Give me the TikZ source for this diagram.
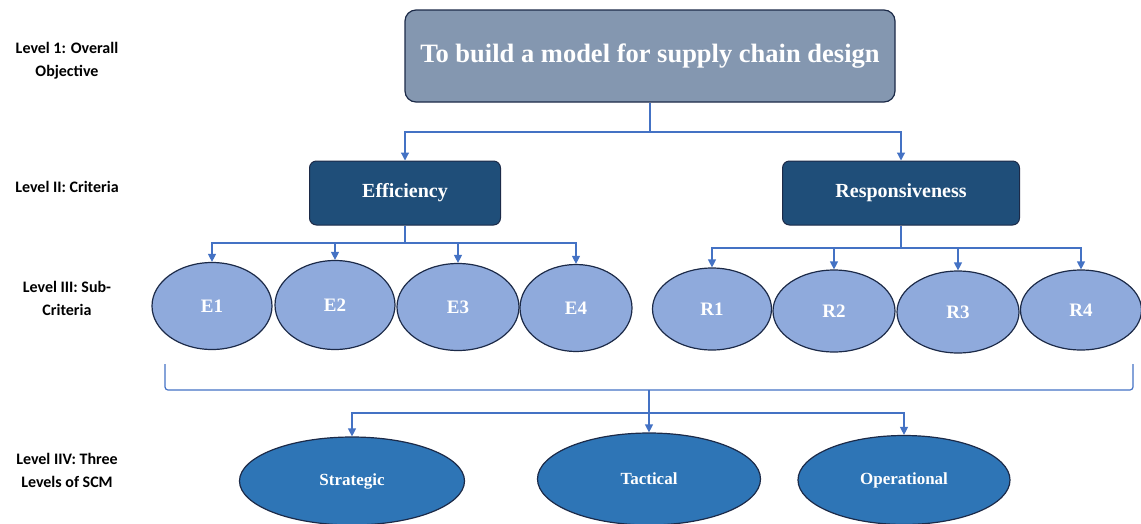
\documentclass[tikz,border=0pt]{standalone}
\usepackage{fontspec}
\setmainfont{Liberation Serif}
\newfontfamily\levelfont{Carlito}
\usetikzlibrary{shapes.geometric,arrows.meta}

\definecolor{goalFill}{HTML}{8497B0}
\definecolor{critFill}{HTML}{1F4E79}
\definecolor{subFill}{HTML}{8FAADC}
\definecolor{scmFill}{HTML}{2E75B6}
\definecolor{edgeDark}{HTML}{1C2A48}
\definecolor{linkBlue}{HTML}{4472C4}

\tikzset{
	levelLabel/.style={align=center, font=\levelfont\bfseries\fontsize{16}{23}\selectfont},
	critBox/.style={rectangle, draw=edgeDark, line width=1pt, fill=critFill, rounded corners=7pt, text=white, font=\bfseries\fontsize{20}{22}\selectfont},
	subEllipse/.style={ellipse, draw=edgeDark, line width=1.2pt, fill=subFill, inner sep=0pt, text=white, font=\bfseries\fontsize{19}{21}\selectfont},
	scmEllipse/.style={ellipse, draw=edgeDark, line width=1.2pt, fill=scmFill, inner sep=0pt, text=white, font=\bfseries\fontsize{17}{19}\selectfont},
	conn/.style={draw=linkBlue, line width=1.2pt, -{Triangle[width=8pt,length=8pt]}},
	bracketLine/.style={draw=linkBlue, line width=1.2pt, rounded corners=3pt}
}

\begin{document}
\begin{tikzpicture}[x=1pt, y=-1pt]
		\useasboundingbox (0,0) rectangle (1141,523);
		% level labels on the left
		\node[levelLabel](level1Label) at (67,61){Level 1: Overall\\Objective};
		\node[levelLabel](level2Label) at (67,187){Level II: Criteria};
		\node[levelLabel](level3Label) at (67,298){Level III: Sub-\\Criteria};
		\node[levelLabel](level4Label) at (67,470){Level IIV: Three\\Levels of SCM};
		% objective
		\node[rectangle, draw=edgeDark, line width=1.2pt, fill=goalFill, rounded corners=11pt, minimum width=490pt, minimum height=92pt, text=white, font=\bfseries\fontsize{26.5}{30}\selectfont](goalBox) at (650,56){To build a model for supply chain design};
		% criteria
		\node[critBox, minimum width=191pt, minimum height=64pt](effBox) at (405,193){Efficiency};
		\node[critBox, minimum width=237pt, minimum height=64pt](resBox) at (901,193){Responsiveness};
		% sub-criteria
		\node[subEllipse, minimum width=120pt, minimum height=87pt](e1) at (212,306){E1};
		\node[subEllipse, minimum width=120pt, minimum height=89pt](e2) at (335,305){E2};
		\node[subEllipse, minimum width=122pt, minimum height=87pt](e3) at (458,307){E3};
		\node[subEllipse, minimum width=112pt, minimum height=87pt](e4) at (576,308){E4};
		\node[subEllipse, minimum width=119pt, minimum height=82pt](r1) at (712,309){R1};
		\node[subEllipse, minimum width=122pt, minimum height=82pt](r2) at (834,311){R2};
		\node[subEllipse, minimum width=122pt, minimum height=82pt](r3) at (958,312){R3};
		\node[subEllipse, minimum width=121pt, minimum height=80pt](r4) at (1081,310){R4};
		% levels of SCM
		\node[scmEllipse, minimum width=225pt, minimum height=88pt](strategic) at (352,481){Strategic};
		\node[scmEllipse, minimum width=223pt, minimum height=92pt](tactical) at (649,479){Tactical};
		\node[scmEllipse, minimum width=212pt, minimum height=89pt](operational) at (904,480){Operational};
		% junctions
		\coordinate(goalJoin) at (650,132);
		\coordinate(effJoin) at (405,243);
		\coordinate(resJoin) at (901,248);
		\coordinate(bracketLeft) at (165,364);
		\coordinate(bracketRight) at (1133,364);
		\coordinate(bracketMid) at (649,390);
		\coordinate(scmJoin) at (649,413);
		% connectors
		\draw[draw=linkBlue, line width=1.2pt] (goalBox.south) -- (goalJoin);
		\draw[conn] (goalJoin) -| (effBox.north);
		\draw[conn] (goalJoin) -| (resBox.north);
		\draw[draw=linkBlue, line width=1.2pt] (effBox.south) -- (effJoin);
		\draw[draw=linkBlue, line width=1.2pt] (resBox.south) -- (resJoin);
		\foreach \i in {1,...,4}{
			\draw[conn] (effJoin) -| (e\i.north);
			\draw[conn] (resJoin) -| (r\i.north);
		}
		\draw[bracketLine] (bracketLeft) |- (bracketMid) -| (bracketRight);
		\draw[conn] (bracketMid) -- (tactical.north);
		\draw[conn] (scmJoin) -| (strategic.north);
		\draw[conn] (scmJoin) -| (operational.north);
	\end{tikzpicture}
\end{document}
